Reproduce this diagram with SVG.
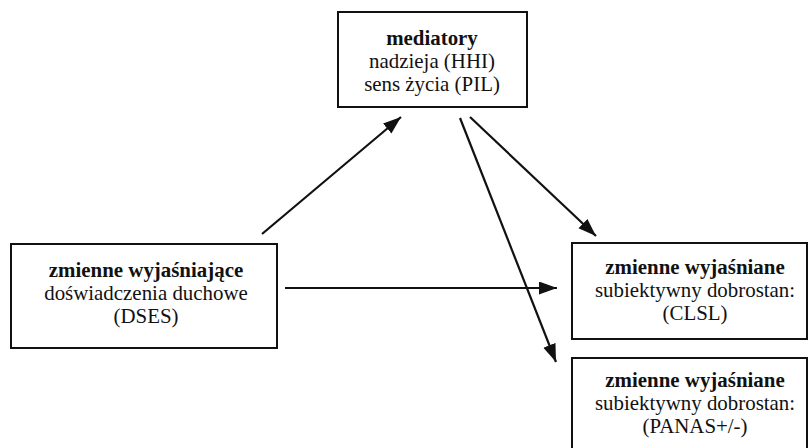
<svg xmlns="http://www.w3.org/2000/svg" width="808" height="448" viewBox="0 0 808 448">
  <style>
    .box { fill: #ffffff; stroke: #111111; stroke-width: 2; }
    .edge { fill: none; stroke: #111111; stroke-width: 2.2; }
    .label { font-size: 20.9px; fill: #111111; text-anchor: middle; }
    .b { font-weight: bold; }
  </style>
  <defs>
    <marker id="arrow" markerUnits="userSpaceOnUse" markerWidth="20" markerHeight="14" refX="18" refY="6.5" orient="auto">
      <path d="M0,0 L18,6.5 L0,13 z" fill="#111111"/>
    </marker>
  </defs>

  <rect width="808" height="448" fill="#ffffff"/>

  <g font-family="'Liberation Serif', 'DejaVu Serif', serif">
    <g id="mediators">
      <rect class="box" x="338" y="12" width="189" height="95"/>
      <text x="432" y="45" class="label b">mediatory</text>
      <text x="432" y="68" class="label">nadzieja (HHI)</text>
      <text x="432" y="91" class="label">sens życia (PIL)</text>
    </g>

    <g id="explanatory">
      <rect class="box" x="11" y="244" width="266" height="104"/>
      <text x="146" y="277" class="label b">zmienne wyjaśniające</text>
      <text x="146" y="300" class="label">doświadczenia duchowe</text>
      <text x="146" y="323" class="label">(DSES)</text>
    </g>

    <g id="outcome-clsl">
      <rect class="box" x="572" y="243" width="235" height="96"/>
      <text x="695" y="274" class="label b">zmienne wyjaśniane</text>
      <text x="695" y="297" class="label">subiektywny dobrostan:</text>
      <text x="695" y="320" class="label">(CLSL)</text>
    </g>

    <g id="outcome-panas">
      <rect class="box" x="572" y="358" width="235" height="100"/>
      <text x="695" y="387" class="label b">zmienne wyjaśniane</text>
      <text x="695" y="410" class="label">subiektywny dobrostan:</text>
      <text x="695" y="433" class="label">(PANAS+/-)</text>
    </g>
  </g>

  <g id="connectors">
    <line class="edge" x1="262" y1="234" x2="401" y2="117" marker-end="url(#arrow)"/>
    <line class="edge" x1="470" y1="117" x2="596" y2="236" marker-end="url(#arrow)"/>
    <line class="edge" x1="285" y1="288" x2="557" y2="288" marker-end="url(#arrow)"/>
    <line class="edge" x1="460" y1="118" x2="556" y2="362" marker-end="url(#arrow)"/>
  </g>
</svg>
